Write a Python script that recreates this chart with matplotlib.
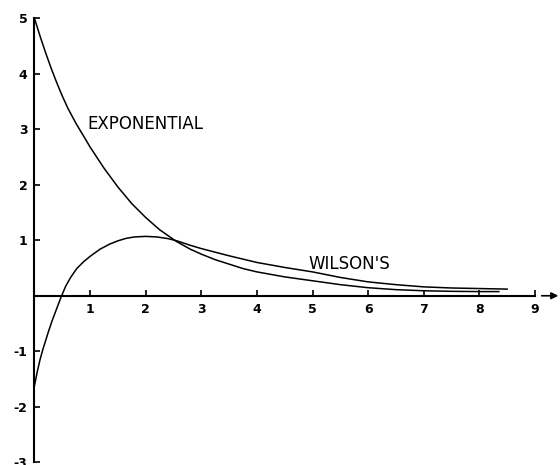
import matplotlib
matplotlib.use("Agg")
import matplotlib.pyplot as plt

# Curves
expX = [0.0, 0.1, 0.2, 0.3, 0.4, 0.5, 0.6, 0.75, 0.9, 1.0, 1.25, 1.5, 1.75,
        2.0, 2.25, 2.55, 2.8, 3.0, 3.25, 3.5, 3.75, 4.0, 4.5, 5.0, 5.5, 6.0,
        6.5, 7.0, 7.5, 8.0, 8.35]
expY = [5.0, 4.68, 4.38, 4.1, 3.84, 3.6, 3.38, 3.1, 2.85, 2.68, 2.3, 1.96, 1.66,
        1.41, 1.19, 0.98, 0.84, 0.75, 0.65, 0.57, 0.49, 0.43, 0.34, 0.27, 0.2, 0.145,
        0.11, 0.09, 0.08, 0.075, 0.075]

wilX = [0.0, 0.05, 0.1, 0.15, 0.2, 0.25, 0.31, 0.4, 0.48, 0.56, 0.65, 0.76,
        0.88, 1.0, 1.18, 1.35, 1.5, 1.65, 1.8, 2.0, 2.2, 2.4, 2.56, 2.8, 3.0,
        3.5, 4.0, 4.5, 5.0, 5.5, 6.0, 6.5, 7.0, 7.5, 8.0, 8.5]
wilY = [-1.62, -1.37, -1.15, -0.97, -0.81, -0.65, -0.47, -0.23, -0.02, 0.17, 0.33, 0.49,
        0.61, 0.71, 0.84, 0.93, 0.99, 1.035, 1.06, 1.07, 1.06, 1.03, 0.99, 0.91, 0.85,
        0.72, 0.6, 0.51, 0.43, 0.33, 0.25, 0.2, 0.16, 0.14, 0.13, 0.12]

xTicks = [1, 2, 3, 4, 5, 6, 7, 8, 9]
yTicks = [-3, -2, -1, 1, 2, 3, 4, 5]

plt.rcParams['axes.unicode_minus'] = False
plt.rcParams['font.family'] = ['DejaVu Sans']

fig = plt.figure(figsize=(5.6, 4.65), dpi=100)
ax = fig.add_axes([0, 0, 1, 1])
ax.set_xlim(-0.62, 9.45)
ax.set_ylim(-3.05, 5.33)

ax.plot(expX, expY, color='black', lw=1.1, solid_joinstyle='round')
ax.plot(wilX, wilY, color='black', lw=1.1, solid_joinstyle='round')

# axes drawn through the origin
for s in ['top', 'right']:
    ax.spines[s].set_visible(False)
ax.spines['left'].set_position(('data', 0))
ax.spines['bottom'].set_position(('data', 0))
ax.spines['left'].set_bounds(-3, 5)
ax.spines['bottom'].set_bounds(0, 9)
ax.spines['left'].set_linewidth(1.5)
ax.spines['bottom'].set_linewidth(1.5)

ax.set_xticks(xTicks)
ax.set_yticks(yTicks)
ax.set_xticklabels([str(v) for v in xTicks])
ax.set_yticklabels([str(v) for v in yTicks])
ax.tick_params(axis='both', direction='in', length=4.5, width=1.2, pad=5,
               labelsize=9)
for lab in ax.get_xticklabels() + ax.get_yticklabels():
    lab.set_fontweight('bold')

ax.annotate('', xy=(9.42, 0), xytext=(9.12, 0),
            arrowprops=dict(arrowstyle='-|>', lw=1.2, color='black',
                            mutation_scale=10, shrinkA=0, shrinkB=0),
            annotation_clip=False)

ax.text(0.96, 3.1, 'EXPONENTIAL', fontsize=12, va='center', ha='left')
ax.text(4.93, 0.58, "WILSON'S", fontsize=12, va='center', ha='left')

fig.savefig('out.png', dpi=100, facecolor='white')
